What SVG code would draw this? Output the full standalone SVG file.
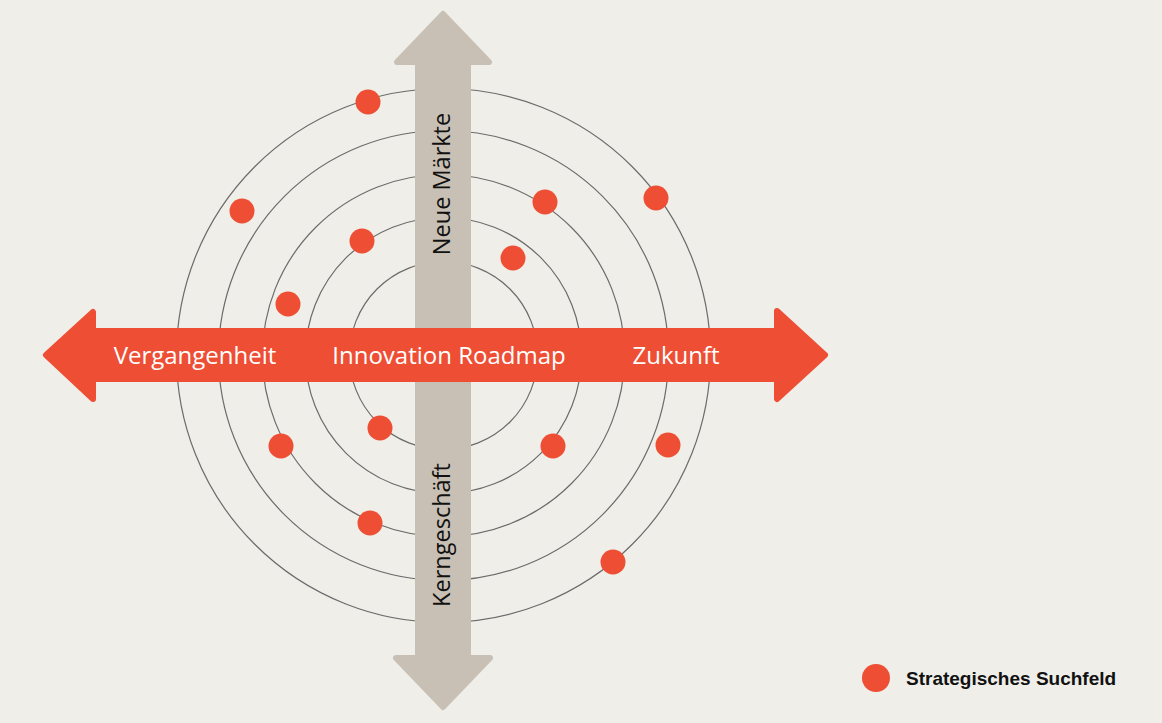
<svg xmlns="http://www.w3.org/2000/svg" width="1162" height="723" viewBox="0 0 1162 723">
<style>
.ring{fill:none;stroke:#6b6b6b;stroke-width:1.2}
.dot{fill:#EE4E34}
.grey{fill:#C8C0B4;stroke:#C8C0B4;stroke-width:6;stroke-linejoin:round}
.red{fill:#EE4E34;stroke:#EE4E34;stroke-width:6;stroke-linejoin:round}
.wt{font-family:"Open Sans","Noto Sans",sans-serif;font-size:24px;fill:#ffffff}
.bt{font-family:"Open Sans","Noto Sans",sans-serif;font-size:23.5px;fill:#111111}
.lg{font-family:"Liberation Sans",Arial,sans-serif;font-size:19px;font-weight:bold;fill:#111111}
</style>
<rect width="1162" height="723" fill="#EFEEE9"/>
<g id="rings">
<circle class="ring" cx="443.5" cy="355.5" r="94"/>
<circle class="ring" cx="443.5" cy="355.5" r="138"/>
<circle class="ring" cx="443.5" cy="355.5" r="181"/>
<circle class="ring" cx="443.5" cy="355.5" r="225"/>
<circle class="ring" cx="443.5" cy="355.5" r="267"/>
</g>
<g id="connectors">
<path id="axis-vertical" class="grey" d="M443,14 L489,62 L468,62 L468,658 L490,658 L443,707 L396,658 L418,658 L418,62 L397,62 Z"/>
<path id="axis-horizontal" class="red" d="M46,355 L93,312 L93,331 L777,331 L777,311 L825,355 L777,399 L777,379 L93,379 L93,399 Z"/>
</g>
<g id="label-vergangenheit"><text class="wt" x="195" y="364" text-anchor="middle">Vergangenheit</text></g>
<g id="label-roadmap"><text class="wt" x="449" y="364" text-anchor="middle">Innovation Roadmap</text></g>
<g id="label-zukunft"><text class="wt" x="676" y="364" text-anchor="middle">Zukunft</text></g>
<g id="label-neue-maerkte"><text class="bt" transform="translate(450,184) rotate(-90)" text-anchor="middle">Neue Märkte</text></g>
<g id="label-kerngeschaeft"><text class="bt" transform="translate(450,535) rotate(-90)" text-anchor="middle">Kerngeschäft</text></g>
<g id="dots">
<circle class="dot" cx="368" cy="102" r="12.5"/>
<circle class="dot" cx="242" cy="211" r="12.5"/>
<circle class="dot" cx="362" cy="241" r="12.5"/>
<circle class="dot" cx="288" cy="304" r="12.5"/>
<circle class="dot" cx="545" cy="202" r="12.5"/>
<circle class="dot" cx="656" cy="198" r="12.5"/>
<circle class="dot" cx="513" cy="258" r="12.5"/>
<circle class="dot" cx="281" cy="446" r="12.5"/>
<circle class="dot" cx="380" cy="428" r="12.5"/>
<circle class="dot" cx="370" cy="523" r="12.5"/>
<circle class="dot" cx="553" cy="446" r="12.5"/>
<circle class="dot" cx="668" cy="445" r="12.5"/>
<circle class="dot" cx="613" cy="562" r="12.5"/>
</g>
<g id="legend">
<circle class="dot" cx="876" cy="678" r="14"/>
<text class="lg" x="906" y="685">Strategisches Suchfeld</text>
</g>
</svg>
